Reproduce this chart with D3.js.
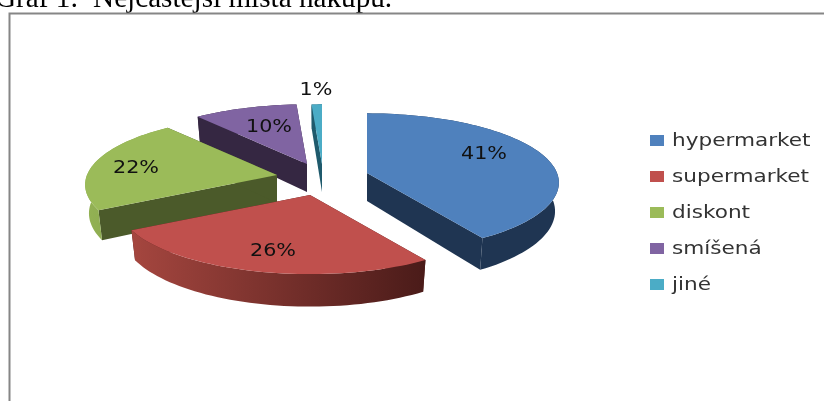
<!DOCTYPE html>
<html>
<head>
    <meta charset="utf-8">
    <title>Graf 1</title>
    <style>
        html, body { margin: 0; padding: 0; background: #fff; }
        svg { display: block; filter: blur(0.4px); }
    </style>
    <script src="https://d3js.org/d3.v7.min.js"></script>
</head>
<body>
<script>
  // values
  var categories = ["hypermarket", "supermarket", "diskont", "smíšená", "jiné"];
  var values = [41, 26, 22, 10, 1];
  var percentLabels = ["41%", "26%", "22%", "10%", "1%"];
  var colors = ["#4f81bd", "#c0504d", "#9bbb59", "#8064a2", "#4bacc6"];
  var wallColors = ["#1f3552", "#4f1d1b", "#4b5a2a", "#352742", "#1f5a6c"];
  // rim wall gradient, left to right
  var rimColors = [["#1f3552", "#1f3552"], ["#a5463f", "#4a1b19"], ["#93b254", "#7f9c48"], ["#352742", "#352742"], ["#1f5a6c", "#1f5a6c"]];

  var w = 824, h = 401;
  var rx = 190, ry = 68, persp = 0.14, depth = 28;
  // where each exploded slice has its point
  var apexes = [[367, 173], [310, 195], [277, 175], [307, 164], [322, 164]];
  var labelPos = [[484, 153], [273, 250], [136, 167], [269, 126], [316, 89]];
  var drawOrder = [4, 3, 2, 0, 1];

  var svg = d3.select("body").append("svg").attr("width", w).attr("height", h);
  var defs = svg.append("defs");

  // title, cut by the top of the picture
  svg.append("text")
     .attr("x", -5).attr("y", 6.5)
     .attr("font-family", "Liberation Serif").attr("font-size", 29.2)
     .attr("fill", "#000")
     .attr("xml:space", "preserve")
     .text("Graf 1:  Nejčastější místa nákupu.");

  // chart frame
  svg.append("path")
     .attr("d", "M9.5," + h + "V13.5H" + w)
     .attr("fill", "none").attr("stroke", "#868686").attr("stroke-width", 2);

  var slices = d3.pie().sort(null)(values);

  // angle goes clockwise from the top, the back of the pie is a little smaller
  function project(apex, r, a, dz) {
    var px = Math.sin(a) * r, py = -Math.cos(a) * r;
    var s = 1 / (1 - persp * py);
    var narrow = dz ? 0.98 : 1; // bottom edge sits slightly further away
    return [apex[0] + rx * px * s * narrow, apex[1] + ry * py * s + (dz || 0) * s];
  }

  function rimPoints(apex, s, dz) {
    var n = Math.max(4, Math.ceil((s.endAngle - s.startAngle) * 30));
    return d3.range(n + 1).map(function (i) {
      return project(apex, 1, s.startAngle + (s.endAngle - s.startAngle) * i / n, dz);
    });
  }

  var line = d3.line();
  var group = svg.append("g");

  drawOrder.forEach(function (i) {
    var s = slices[i], apex = apexes[i];
    var top = rimPoints(apex, s, 0);
    var bottom = rimPoints(apex, s, depth);
    var a0 = top[0], a1 = top[top.length - 1];
    var b0 = bottom[0], b1 = bottom[bottom.length - 1];
    var low = [apex[0], apex[1] + depth];

    // rim wall gradient runs across the slice
    var xr = d3.extent(top, function (d) { return d[0]; });
    var grad = defs.append("linearGradient")
        .attr("id", "rim" + i).attr("gradientUnits", "userSpaceOnUse")
        .attr("x1", xr[0]).attr("x2", xr[1]).attr("y1", 0).attr("y2", 0);
    grad.append("stop").attr("offset", 0).attr("stop-color", rimColors[i][0]);
    grad.append("stop").attr("offset", 1).attr("stop-color", rimColors[i][1]);

    // the two cut walls
    group.append("path")
         .attr("d", line([a0, apex, low, b0]) + "Z")
         .attr("fill", wallColors[i]);
    group.append("path")
         .attr("d", line([a1, apex, low, b1]) + "Z")
         .attr("fill", wallColors[i]);
    // outer wall
    group.append("path")
         .attr("d", line(top.concat(bottom.slice().reverse())) + "Z")
         .attr("fill", "url(#rim" + i + ")");
    // top face
    group.append("path")
         .attr("d", line([apex].concat(top)) + "Z")
         .attr("fill", colors[i]);
  });

  // percent labels, the picture has them stretched sideways
  svg.selectAll("text.pct")
     .data(percentLabels)
     .enter()
     .append("text")
     .attr("class", "pct")
     .attr("transform", function (d, i) {
       return "translate(" + labelPos[i][0] + "," + (labelPos[i][1] + 6) + ") scale(1.15,1)";
     })
     .attr("text-anchor", "middle")
     .attr("font-family", "DejaVu Sans").attr("font-size", 18)
     .attr("fill", "#111")
     .text(function (d) { return d; });

  // legend
  var legendY = d3.scalePoint().domain(categories).range([140, 284]);
  var legend = svg.selectAll("g.leg")
     .data(categories)
     .enter()
     .append("g")
     .attr("class", "leg")
     .attr("transform", function (d) { return "translate(650," + legendY(d) + ")"; });
  legend.append("rect")
     .attr("x", 0).attr("y", -5).attr("width", 14).attr("height", 11)
     .attr("fill", function (d, i) { return colors[i]; });
  legend.append("text")
     .attr("transform", "translate(22,6) scale(1.2,1)")
     .attr("font-family", "DejaVu Sans").attr("font-size", 18)
     .attr("fill", "#333")
     .text(function (d) { return d; });
</script>
</body>
</html>
